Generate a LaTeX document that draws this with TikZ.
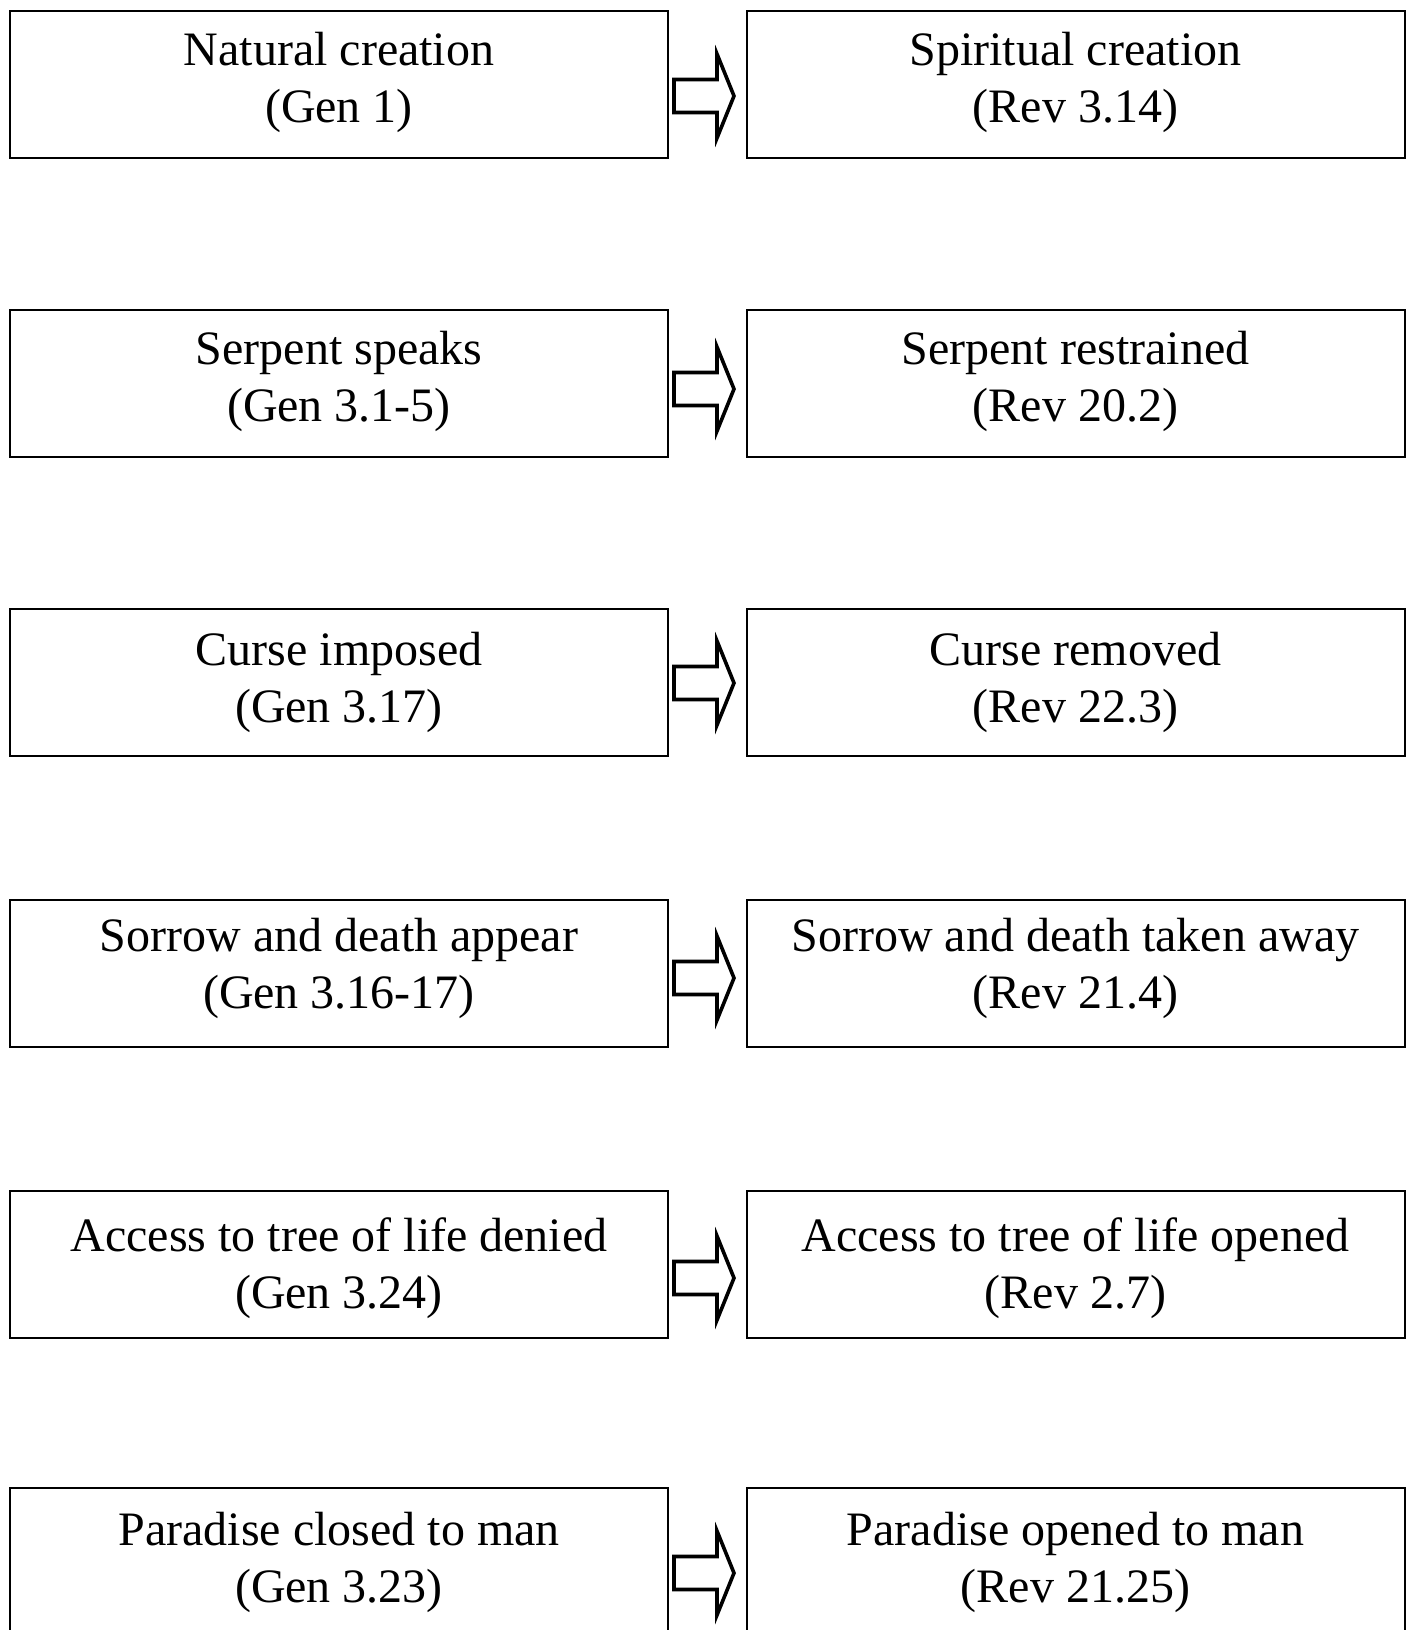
\documentclass[tikz,border=0pt]{standalone}
\usepackage{fontspec}
\setmainfont{Liberation Serif}
\begin{document}
\begin{tikzpicture}[x=1pt,y=-1pt,
  box/.style={draw, line width=2.5pt, rectangle, minimum width=658pt, minimum height=147pt, inner sep=0pt, anchor=north west},
  txt/.style={anchor=base, inner sep=0pt, font=\fontsize{48pt}{58pt}\selectfont},
  blockarrow/.style={draw, line width=3.6pt, line join=miter, fill=white}]
\useasboundingbox (0,0) rectangle (1414,1630);
\clip (0,0) rectangle (1414,1630);
\foreach \r/\top/\tip/\bl/\la/\lb/\ra/\rb in {
  1/10/96/65/Natural creation/(Gen 1)/Spiritual creation/(Rev 3.14),
  2/309/389/364/Serpent speaks/(Gen 3.1-5)/Serpent restrained/(Rev 20.2),
  3/608/683/665/Curse imposed/(Gen 3.17)/Curse removed/(Rev 22.3),
  4/899/978/951/Sorrow and death appear/(Gen 3.16-17)/Sorrow and death taken away/(Rev 21.4),
  5/1190/1278/1251/Access to tree of life denied/(Gen 3.24)/Access to tree of life opened/(Rev 2.7),
  6/1487/1573/1545/Paradise closed to man/(Gen 3.23)/Paradise opened to man/(Rev 21.25)}{
  \node[box] (L\r) at (8.5,\top-0.5) {};
  \node[box] (R\r) at (745.5,\top-0.5) {};
  \node[txt] (La\r) at (339,\bl) {\la};
  \node[txt] (Lb\r) at (339,\bl+57) {\lb};
  \node[txt] (Ra\r) at (1075.5,\bl) {\ra};
  \node[txt] (Rb\r) at (1075.5,\bl+57) {\rb};
  \draw[blockarrow] (674,\tip-16.5) -- (717,\tip-16.5) -- (717,\tip-42) -- (734,\tip)
     -- (717,\tip+42) -- (717,\tip+16.5) -- (674,\tip+16.5) -- cycle;
}
\end{tikzpicture}
\end{document}
